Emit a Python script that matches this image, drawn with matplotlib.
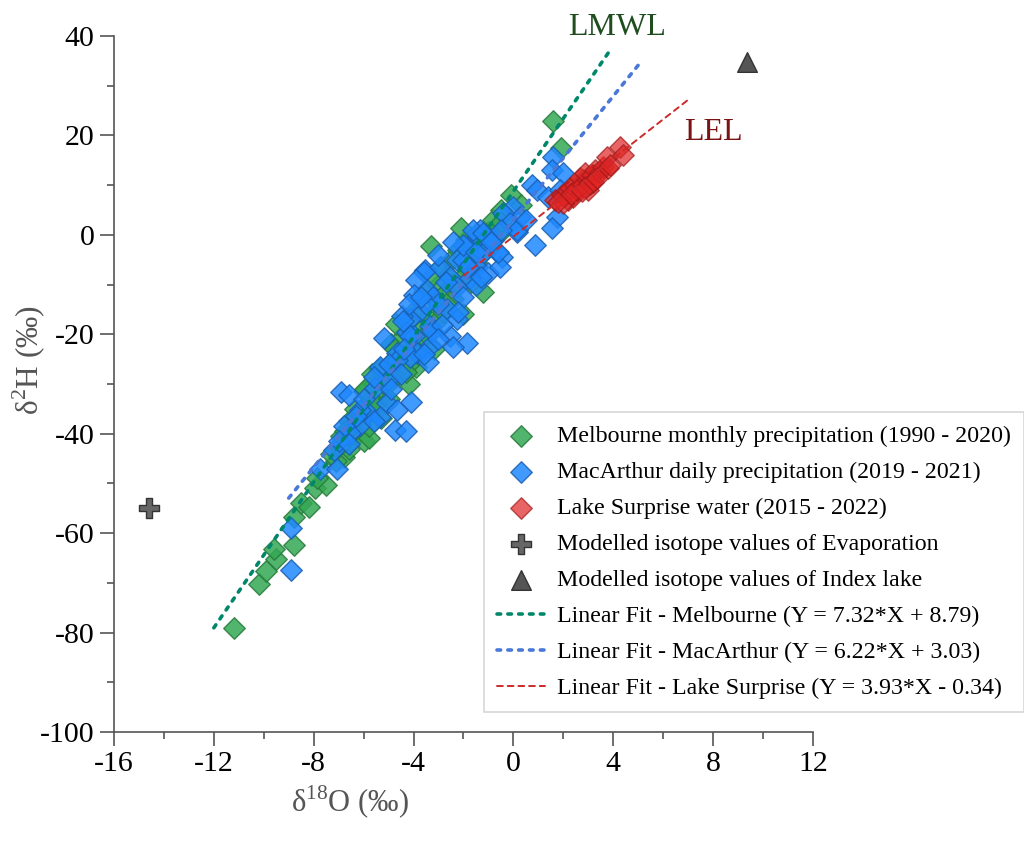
import matplotlib
matplotlib.use("Agg")
import matplotlib.pyplot as plt
import numpy as np

plt.rcParams['font.family'] = ['Liberation Serif', 'DejaVu Serif']
plt.rcParams['mathtext.fontset'] = 'custom'
plt.rcParams['mathtext.rm'] = 'Liberation Serif'
plt.rcParams['axes.unicode_minus'] = False

# Melbourne monthly precipitation (d18O, d2H)
mel_x = [-11.2, -10.2, -9.9, -9.5, -9.6, -8.8, -8.8, -8.5, -8.2, -7.95, -7.5, -7.85, -6.8, -6.6,
         -6.9, -6.5, -6.3, -6.0, -5.8, -6.6, -6.2, -5.9, -6.0, -5.7, -5.5, -5.3, -5.6, -5.2, -5.0,
         -4.8, -5.4, -4.9, -4.6, -4.9, -4.5, -4.3, -4.7, -4.1, -4.0, -3.7, -3.6, -3.9, -3.4, -3.2,
         -3.6, -3.0, -3.3, -2.8, -2.9, -2.6, -2.5, -2.2, -2.4, -2.0, -1.8, -1.9, -2.1, -1.6, -1.4,
         -1.2, -1.0, -0.8, -0.5, -0.1, -3.3, 1.6, 1.9, -3.9, -3.2, -4.2, -6.4, -6.1, -5.8, -5.5,
         -5.1, -4.4, -4.0, -3.5, -3.1, -2.8, -2.4, -2.0, -1.5, -1.1, -0.6, 0.3, -0.5, 2.8, 3.2,
         -7.1, -7.3, -6.7, -5.0, -4.3, -3.8, -2.7, -1.7, -7.0, -6.75, -6.35, -5.95, -5.65, -4.75]
mel_y = [-79.0, -70.3, -67.7, -65.2, -63.2, -62.3, -56.8, -54.0, -54.8, -50.9, -50.3, -49.0, -44.6, -43.0,
         -40.5, -41.5, -39.0, -41.5, -40.8, -37.5, -36.0, -34.5, -31.5, -33.0, -35.5, -36.8, -30.0, -32.0, -29.0,
         -28.5, -27.0, -25.5, -24.0, -22.0, -20.8, -19.5, -18.0, -17.0, -22.5, -21.0, -18.5, -15.0, -16.5, -13.0,
         -11.5, -10.0, -8.5, -12.0, -6.5, -8.0, -5.0, -3.0, -9.8, -16.0, -7.0, -1.0, 1.4, -4.0, -2.0,
         -11.5, 0.5, 3.0, 5.0, 8.0, -2.2, 23.0, 17.5, -26.5, -23.0, -30.0, -38.0, -37.0, -38.5, -34.0,
         -30.5, -26.0, -25.0, -20.0, -17.5, -15.5, -13.0, -8.5, -5.5, -3.0, 0.0, 6.0, 2.5, 11.0, 12.0,
         -45.5, -44.0, -41.0, -33.0, -27.5, -24.0, -14.0, -9.5, -42.5, -39.5, -35.0, -31.0, -28.0, -23.0]

# MacArthur daily precipitation
mac_x = [-8.9, -8.9, -7.75, -7.05, -7.2, -6.9, -6.6, -4.1, -4.75, -4.3, -5.2, -5.35,
         1.6, 1.55, 2.0, 0.75, 0.93, 1.4, 1.85, 1.74, 1.55, 0.86, -0.46, 0.0, 0.26, -0.42, -0.14, 0.14,
         -1.34, -1.46, -1.06, -1.86, -1.22, -3.55, -2.95, -2.27, -1.46, -1.0, -0.54,
         -1.62, -1.22, 0.14, -2.0, -1.74, -3.6, -2.54, -3.46, -3.22, -2.26, -2.66, -2.26, -3.74, -4.14,
         -3.34, -4.46, -4.26, -4.0, -2.54, -1.86, -3.34, -4.66, -3.86, -2.4,
         -4.42, -4.14, -3.26, -2.86, -3.42, -4.14, -4.66, -5.02, -5.55, -5.07, -5.83, -6.15, -5.35, -4.66,
         -6.15, -6.55, -2.0, -1.5, -2.4, -1.8, -3.0, -2.7, -3.9, -4.0, -3.0, -2.0, -1.5, -0.8, -0.5,
         -3.5, -4.4, -5.0, -5.6, -6.0, -6.3, -6.8, -7.0, -6.6, -5.6, -4.9, -4.5, -3.6, -3.0, -2.2, -1.3,
         -0.6, -4.2, -3.7, -0.9, 0.5]
mac_y = [-67.5, -59.0, -47.2, -47.2, -43.2, -31.6, -32.2, -33.6, -39.2, -39.4, -20.7, -26.5,
         15.7, 13.0, 12.4, 10.0, 9.0, 7.7, 9.0, 3.6, 1.4, -2.0, -4.4, 5.6, 3.6, 4.4, 2.4, 0.6,
         1.0, -0.4, -0.6, -2.4, -3.6, -7.0, -6.4, -5.0, -6.4, -7.6, -6.4,
         1.0, 0.4, 1.0, -5.0, -8.6, -7.4, -8.4, -11.0, -12.4, -10.4, -15.0, -17.0, -15.4, -17.0,
         -18.4, -16.4, -19.6, -20.4, -20.4, -21.8, -22.4, -23.8, -23.8, -22.5,
         -17.4, -20.4, -19.4, -18.1, -25.5, -24.5, -25.1, -29.1, -30.8, -33.8, -35.8, -35.2, -36.6, -35.2,
         -38.2, -39.8, -2.0, -3.5, -1.5, -6.5, -4.0, -9.5, -9.0, -12.0, -14.0, -12.5, -10.0, -1.0, 1.0,
         -14.0, -23.0, -26.0, -28.5, -33.0, -36.5, -38.5, -41.5, -42.0, -37.5, -31.0, -28.0, -24.0, -21.0, -15.5, -8.5,
         -3.5, -14.0, -12.5, -1.5, 3.0]

# Lake Surprise water
lake_x = [1.67, 1.95, 2.14, 2.27, 2.47, 2.67, 2.67, 2.94, 2.86, 3.14, 3.26, 3.47, 3.6, 3.8, 3.74,
          4.27, 4.4, 2.18, 2.38, 2.98, 2.0, 1.79, 3.87, 2.86, 3.18, 2.55, 3.05, 3.35, 2.3, 2.75]
lake_y = [7.0, 8.0, 8.6, 9.4, 10.0, 10.0, 11.4, 11.0, 12.4, 12.0, 13.0, 12.7, 13.7, 13.4, 15.7,
          17.7, 16.0, 7.0, 7.7, 9.0, 6.4, 6.6, 14.1, 9.6, 10.6, 9.0, 10.2, 11.5, 8.2, 8.8]

# Modelled values
evap_x, evap_y = [-14.6], [-55.0]
index_x, index_y = [9.35], [34.8]

# Linear fits: (slope, intercept, x-start, x-end)
fit_mel = (7.32, 8.79, -12.0, 3.9)
fit_mac = (6.22, 3.03, -9.0, 5.07)
fit_lake = (3.93, -0.34, -2.0, 7.0)

fig = plt.figure(figsize=(10.24, 8.46), dpi=100)
ax = fig.add_axes([0.1113, 0.1348, 0.6826, 0.8226])

ms = 120
ax.scatter(mel_x, mel_y, marker='D', s=ms, facecolor='#34a853', edgecolor='#257a3a',
           linewidth=1.0, alpha=0.85, zorder=2,
           label='Melbourne monthly precipitation (1990 - 2020)')
ax.scatter(mac_x, mac_y, marker='D', s=ms, facecolor='#1e88ff', edgecolor='#1a5fb0',
           linewidth=1.0, alpha=0.85, zorder=3,
           label='MacArthur daily precipitation (2019 - 2021)')
ax.scatter(lake_x, lake_y, marker='D', s=ms, facecolor='#e02424', edgecolor='#a01818',
           linewidth=1.0, alpha=0.7, zorder=4,
           label='Lake Surprise water (2015 - 2022)')
ax.scatter(evap_x, evap_y, marker='P', s=200, facecolor='#666666', edgecolor='#333333',
           linewidth=1.0, zorder=5, label='Modelled isotope values of Evaporation')
ax.scatter(index_x, index_y, marker='^', s=200, facecolor='#555555', edgecolor='#333333',
           linewidth=1.0, zorder=5, label='Modelled isotope values of Index lake')

for (m, b, x0, x1), col, ls, lab in [
        (fit_mel, '#00876a', (0, (1, 2)), 'Linear Fit - Melbourne (Y = 7.32*X + 8.79)'),
        (fit_mac, '#4a78d8', (0, (1, 2)), 'Linear Fit - MacArthur (Y = 6.22*X + 3.03)'),
        (fit_lake, '#cc2a2a', (0, (3, 2.5)), 'Linear Fit - Lake Surprise (Y = 3.93*X - 0.34)')]:
    xs = np.array([x0, x1])
    lw = 2.6 if ls == (0, (1, 2)) else 1.4
    ax.plot(xs, m * xs + b, color=col, linestyle=ls, linewidth=lw, zorder=6,
            dash_capstyle='round', label=lab)

ax.text(4.15, 41.8, 'LMWL', color='#1f4d1f', fontsize=23, ha='center', va='center')
ax.text(8.0, 20.5, 'LEL', color='#7a1414', fontsize=23, ha='center', va='center')

ax.set_xlim(-16, 12)
ax.set_ylim(-100, 40)
ax.set_xticks(np.arange(-16, 13, 4))
ax.set_yticks(np.arange(-100, 41, 20))
ax.set_xticks(np.arange(-14, 12, 4), minor=True)
ax.set_yticks(np.arange(-90, 40, 20), minor=True)
for s in ['top', 'right']:
    ax.spines[s].set_visible(False)
for s in ['left', 'bottom']:
    ax.spines[s].set_color('#555555')
    ax.spines[s].set_linewidth(1.2)
ax.tick_params(which='major', direction='out', length=10, width=1.2, color='#555555',
               labelsize=21.5, labelcolor='black', pad=4)
ax.tick_params(which='minor', direction='out', length=5, width=1.2, color='#555555')

ax.set_xlabel('δ$^{18}$O (‰)', fontsize=22, color='#555555')
ax.set_ylabel('δ$^{2}$H (‰)', fontsize=22.5, color='#555555')
ax.xaxis.set_label_coords(0.338, -0.075)
ax.yaxis.set_label_coords(-0.095, 0.534)

leg = ax.legend(loc='upper left', bbox_to_anchor=(484 / 1024, 1 - 412 / 846),
                bbox_transform=fig.transFigure, borderaxespad=0, frameon=True, fancybox=False,
                fontsize=17.2, handlelength=2.0, handletextpad=0.5, borderpad=0.55,
                labelspacing=0.6, markerscale=1.0)
leg.get_frame().set_edgecolor('#cccccc')
leg.get_frame().set_linewidth(1.2)

fig.savefig('out.png', dpi=100)
